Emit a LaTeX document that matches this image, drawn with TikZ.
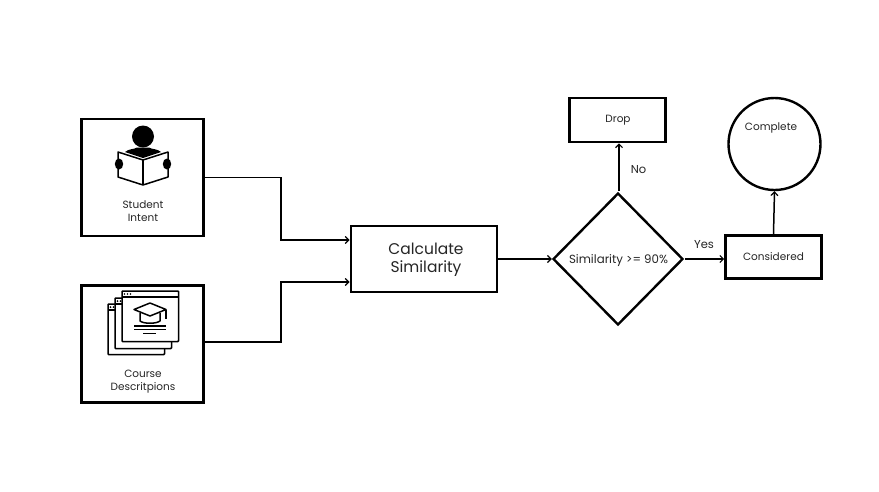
\documentclass[tikz,border=0pt]{standalone}
\usepackage{fontspec}
\setmainfont{Poppins}
\usetikzlibrary{arrows.meta,shapes.geometric,calc}
\tikzset{
  boxnode/.style={draw=black,line width=2.6pt,rectangle,inner sep=0pt,fill=white},
  conn/.style={draw=black,line width=1.5pt,-{Straight Barb[length=3.5pt,width=7pt,line width=1.2pt]}},
  txt/.style={inner sep=0pt,align=center,text=black!85,font=\fontsize{#1}{#1}\selectfont},
  txt/.default=10.5,
  iconline/.style={draw=black,line width=1.5pt,line join=round},
  winbox/.style={draw=black,line width=1.5pt,fill=white,rounded corners=0.8pt},
}
\begin{document}
\begin{tikzpicture}[x=1pt,y=-1pt]
\useasboundingbox[fill=white] (0,0) rectangle (879,491);

% boxes
\node[boxnode,minimum width=122pt,minimum height=117pt] (student) at (142.5,177.5) {};
\node[boxnode,minimum width=122pt,minimum height=117pt] (course) at (142.5,344) {};
\node[boxnode,line width=2.9pt,minimum width=146pt,minimum height=66pt] (calc) at (424,259) {};
\node[draw=black,line width=2.4pt,diamond,aspect=1,inner sep=0pt,minimum width=130pt,minimum height=132pt,fill=white] (sim) at (618,259) {};
\node[boxnode,minimum width=96pt,minimum height=44pt] (drop) at (617.5,120) {};
\node[boxnode,minimum width=96pt,minimum height=43pt] (cons) at (773.5,257) {};
\node[draw=black,line width=2.4pt,circle,inner sep=0pt,minimum size=92pt,fill=white] (comp) at (774.5,144) {};

% texts
\node[txt=10.5] (t1) at (143,211.5) {Student\\[2.6pt]Intent};
\node[txt=10.5] (t2) at (143,382) {Course\\[2.6pt]Descritpions};
\node[txt=15.5] (t3) at (426,260) {Calculate\\[2pt]Similarity};
\node[txt=11.8] (t4) at (618.5,260.5) {Similarity >= 90\%};
\node[txt=10.5] (t5) at (618,120.5) {Drop};
\node[txt=10.5] (t6) at (773.5,257) {Considered};
\node[txt=10.5] (t7) at (771,127.5) {Complete};
\node[txt=11.5] (t8) at (638.5,170) {No};
\node[txt=11.5] (t9) at (704,245) {Yes};

% connectors
\coordinate (sa) at ($(calc.west)+(0,-19)$);
\coordinate (sb) at ($(calc.west)+(0,23)$);
\coordinate (ca) at ($(course.east)+(0,-2)$);
\coordinate (cm) at (281,0);
\coordinate (dn) at ($(sim.north)+(1,-1)$);
\coordinate (de) at ($(sim.east)+(1,0)$);
\draw[conn] (student.east) -| (cm |- sa) -- (sa);
\draw[conn] (ca) -| (cm |- sb) -- (sb);
\draw[conn] (calc.east |- sim.west) -- (sim.west);
\draw[conn] (dn) -- (dn |- drop.south);
\draw[conn] (de) -- (cons.west |- de);
\draw[conn] (cons.north) -- (comp.south);

% person icon
\fill[black] (143,136.5) circle (11);
\fill[black] (125,152) .. controls (129,148.5) and (134,149.5) .. (137,147.5) -- (149,147.5) .. controls (152,149.5) and (157,148.5) .. (161,152) -- (143,158) -- cycle;
\draw[iconline,fill=white] (118,152) -- (143,160) -- (168,152) -- (168,177) -- (143,185) -- (118,177) -- cycle;
\draw[iconline] (143,160) -- (143,185);
\fill[black] (119,164) ellipse (4.2 and 5.5);
\fill[black] (167,164) ellipse (4.2 and 5.5);

% window icons
\foreach \xa/\ya [count=\i] in {108/304,115/298,122/291}{
  \draw[winbox] (\xa,\ya) rectangle ++(56.5,50.5);
  \draw[iconline,line width=1.2pt] (\xa,\ya+6) -- ++(56.5,0);
}
\foreach \xa/\ya in {108/304,115/298}{
  \fill (\xa+2.5,\ya+3) circle (1) (\xa+5.5,\ya+3) circle (1);
}
\fill (124.5,294) circle (0.9) (127.5,294) circle (0.9) (130.5,294) circle (0.9);
% mortarboard
\draw[iconline,fill=white] (150,303) -- (166,309.5) -- (150,316) -- (134,309.5) -- cycle;
\draw[iconline] (140,313) -- (140,321) .. controls (144,324) and (156,324) .. (160,321) -- (160,313);
\draw[iconline] (166,309.5) -- (166,319);
% text lines
\draw[line width=1.2pt] (134,326) -- (166,326) (134,329.5) -- (166,329.5);
\draw[line width=1.2pt] (143,333.5) -- (156,333.5);
\end{tikzpicture}
\end{document}
